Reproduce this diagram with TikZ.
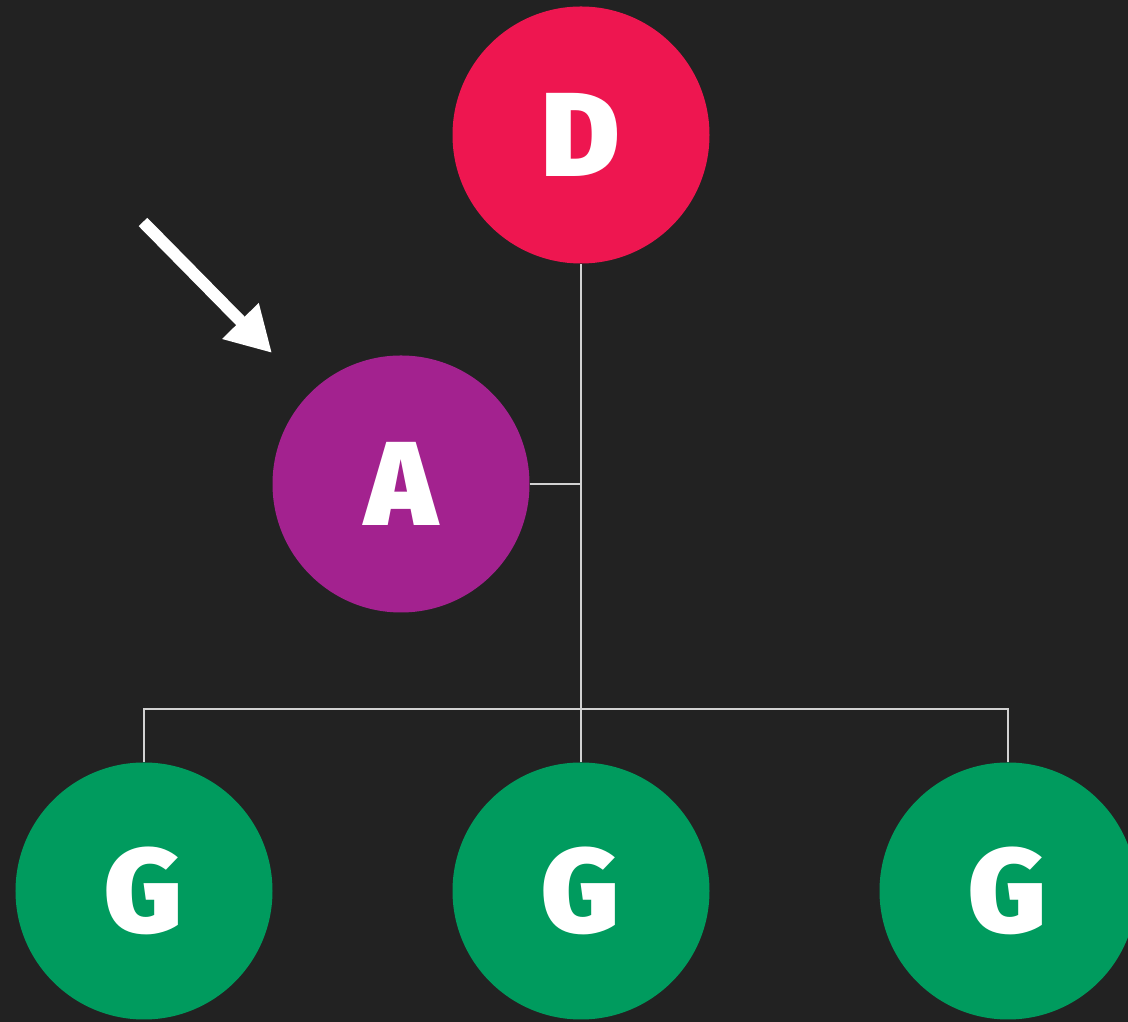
\documentclass[tikz,border=0pt]{standalone}
\usepackage{fontspec}
\setmainfont{Fira Sans}[BoldFont={Fira Sans Black}]
\usetikzlibrary{positioning,arrows.meta}
\definecolor{bgdark}{HTML}{222222}
\definecolor{dred}{HTML}{EE1650}
\definecolor{apurple}{HTML}{A3228F}
\definecolor{ggreen}{HTML}{009B5E}
\definecolor{wire}{HTML}{D2D2D2}
\tikzset
{
    letternode/.style = {circle, fill=#1, text=white, inner sep=0pt, minimum size=2.57cm, font=\bfseries\fontsize{34}{34}\selectfont},
    link/.style       = {draw=wire, line width=0.02cm},
    pointer/.style    = {draw=white, line width=0.12cm, -{Triangle[length=0.45cm,width=0.48cm]}}
}
\begin{document}
\begin{tikzpicture}
		\useasboundingbox (0,0) rectangle (11.28,10.22);
		\fill[bgdark] (0,0) rectangle (11.28,10.22);
		\clip (0,0) rectangle (11.28,10.22);
		
		\node[letternode=dred] (D) at (5.81,8.87) {D};
		\node[letternode=apurple] (A) at (4.01,5.38) {A};
		
		\node[letternode=ggreen] (G2) at (5.81,1.31) {G};
		\node[letternode=ggreen] (G1) at (1.44,1.31) {G};
		\node[letternode=ggreen] (G3) at (10.08,1.31) {G};
		
		\coordinate (bus) at (5.81,3.13);
		\draw[link] (D.south) -- (G2.north);
		\draw[link] (A.east) -- (A.east -| D.south);
		\draw[link] (G1.north) |- (bus) -| (G3.north);
		
		% arrow pointing at A
		\coordinate (tail) at (1.43,8.00);
		\coordinate (tip) at (2.72,6.69);
		\draw[pointer] (tail) -- (tip);
		
		\end{tikzpicture}
\end{document}
